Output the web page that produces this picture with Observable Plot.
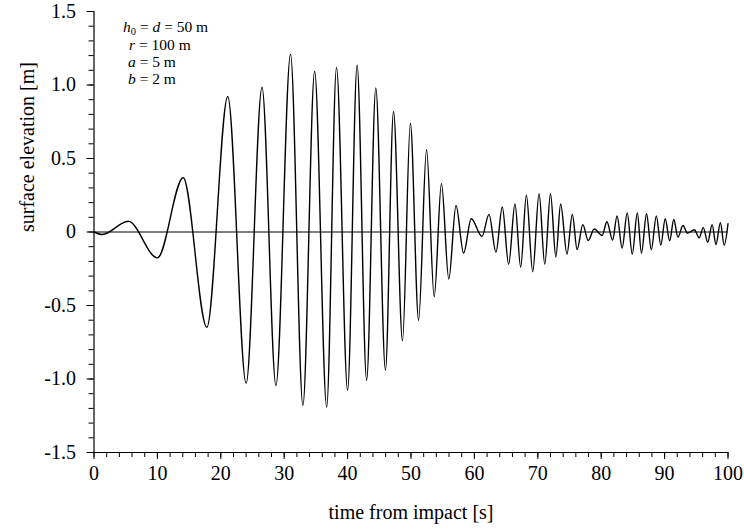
<!DOCTYPE html>
<html>
<head>
<meta charset="utf-8">
<script src="https://cdn.jsdelivr.net/npm/d3@7"></script>
<script src="https://cdn.jsdelivr.net/npm/@observablehq/plot@0.6"></script>
<style>
  html, body { margin: 0; padding: 0; background: #fff; }
</style>
</head>
<body>
<div id="chart"></div>
<script>
// Extrema of the surface elevation record (time [s], elevation [m])
const times = [
  0, 1.3, 5.4, 10.0, 14.07, 17.8, 21.1, 24.0, 26.5, 28.7,
  31.0, 32.95, 34.8, 36.7, 38.25, 40.0, 41.5, 43.0, 44.45, 45.97,
  47.24, 48.66, 49.9, 51.2, 52.45, 53.66, 54.8, 55.96, 57.1, 58.3,
  59.5, 61.2, 62.3, 63.4, 64.4, 65.4, 66.4, 67.3, 68.2, 69.2,
  70.2, 71.1, 72.0, 72.85, 73.6, 74.6, 75.45, 76.2, 77.1, 77.95,
  78.9, 80.15, 80.9, 81.8, 82.5, 83.3, 84.1, 84.9, 85.7, 86.35,
  87.15, 87.9, 88.7, 89.4, 90.1, 90.8, 91.45, 92.1, 92.9, 93.6,
  94.7, 95.45, 96.1, 96.8, 97.5, 98.1, 98.8, 99.4, 100
];
const elevations = [
  0, -0.017, 0.073, -0.176, 0.369, -0.648, 0.922, -1.03, 0.985, -1.044,
  1.21, -1.18, 1.094, -1.19, 1.12, -1.078, 1.137, -1.01, 0.98, -0.94,
  0.82, -0.74, 0.74, -0.60, 0.56, -0.44, 0.33, -0.32, 0.18, -0.144,
  0.09, -0.03, 0.12, -0.137, 0.17, -0.22, 0.19, -0.24, 0.25, -0.27,
  0.26, -0.22, 0.26, -0.17, 0.19, -0.15, 0.12, -0.12, 0.05, -0.058,
  0.02, -0.024, 0.07, -0.055, 0.11, -0.11, 0.13, -0.15, 0.13, -0.144,
  0.124, -0.12, 0.11, -0.09, 0.09, -0.06, 0.085, -0.035, 0.044, -0.008,
  0.015, -0.04, 0.03, -0.07, 0.05, -0.085, 0.063, -0.09, 0.056
];

const xMajorTicks = [0, 10, 20, 30, 40, 50, 60, 70, 80, 90, 100];
const xMinorTicks = d3.range(0, 101, 2);
const yMajorTicks = [-1.5, -1.0, -0.5, 0, 0.5, 1.0, 1.5];
const yMinorTicks = d3.range(-15, 16).map(d => d / 10);

const xTitle = "time from impact [s]";
const yTitle = "surface elevation [m]";

const data = times.map((t, i) => ({t, v: elevations[i]}));

const font = "Liberation Serif, Times New Roman, serif";
const fmtY = d => d === 0 ? "0" : d.toFixed(1);

const plot = Plot.plot({
  width: 744,
  height: 529,
  marginLeft: 93.5,
  marginRight: 16.5,
  marginTop: 11,
  marginBottom: 77,
  style: {fontFamily: font, fontSize: "20px", background: "white", color: "black", overflow: "visible"},
  x: {domain: [0, 100]},
  y: {domain: [-1.5, 1.5]},
  marks: [
    Plot.ruleY([0], {stroke: "black", strokeWidth: 1}),
    Plot.ruleX([0], {stroke: "black", strokeWidth: 1.2}),
    Plot.ruleY([-1.5], {stroke: "black", strokeWidth: 1.2}),
    Plot.axisY({anchor: "left", ticks: yMinorTicks, tickSize: 5, tickFormat: () => "", label: null}),
    Plot.axisY({anchor: "left", ticks: yMajorTicks, tickSize: 7, tickPadding: 11, tickFormat: fmtY, label: null, fontSize: 20, fontFamily: font}),
    Plot.axisX({anchor: "bottom", ticks: xMinorTicks, tickSize: 5, tickFormat: () => "", label: null}),
    Plot.axisX({anchor: "bottom", ticks: xMajorTicks, tickSize: 7, tickPadding: 6, tickFormat: d => String(d), label: null, fontSize: 20, fontFamily: font}),
    Plot.line(data, {x: "t", y: "v", curve: "monotone-x", stroke: "black", strokeWidth: 1.4}),
    Plot.text([xTitle], {frameAnchor: "bottom", dy: 66, fontSize: 20, fontFamily: font, fill: "black"}),
    Plot.text([yTitle], {frameAnchor: "left", dx: -66, rotate: -90, fontSize: 20, fontFamily: font, fill: "black"})
  ]
});

document.getElementById("chart").appendChild(plot);

// Parameter annotation (mixed italic / upright text)
const svg = d3.select(plot);
const ann = svg.append("g")
  .attr("font-family", font)
  .attr("font-size", 15.5)
  .attr("text-anchor", "start")
  .attr("fill", "black");

const lines = [
  {x: 123, y: 32, parts: [["h", true, 0], ["0", false, 2.5, 10.5], [" = ", false, -2.5], ["d", true, 0], [" = 50 m", false, 0]]},
  {x: 129, y: 50, parts: [["r", true, 0], [" = 100 m", false, 0]]},
  {x: 128, y: 67, parts: [["a", true, 0], [" = 5 m", false, 0]]},
  {x: 128, y: 84, parts: [["b", true, 0], [" = 2 m", false, 0]]}
];
for (const ln of lines) {
  const t = ann.append("text").attr("x", ln.x).attr("y", ln.y).style("white-space", "pre");
  for (const [s, ital, dy, size] of ln.parts) {
    const ts = t.append("tspan").text(s);
    if (ital) ts.attr("font-style", "italic");
    if (dy) ts.attr("dy", dy);
    if (size) ts.attr("font-size", size);
  }
}
</script>
</body>
</html>
